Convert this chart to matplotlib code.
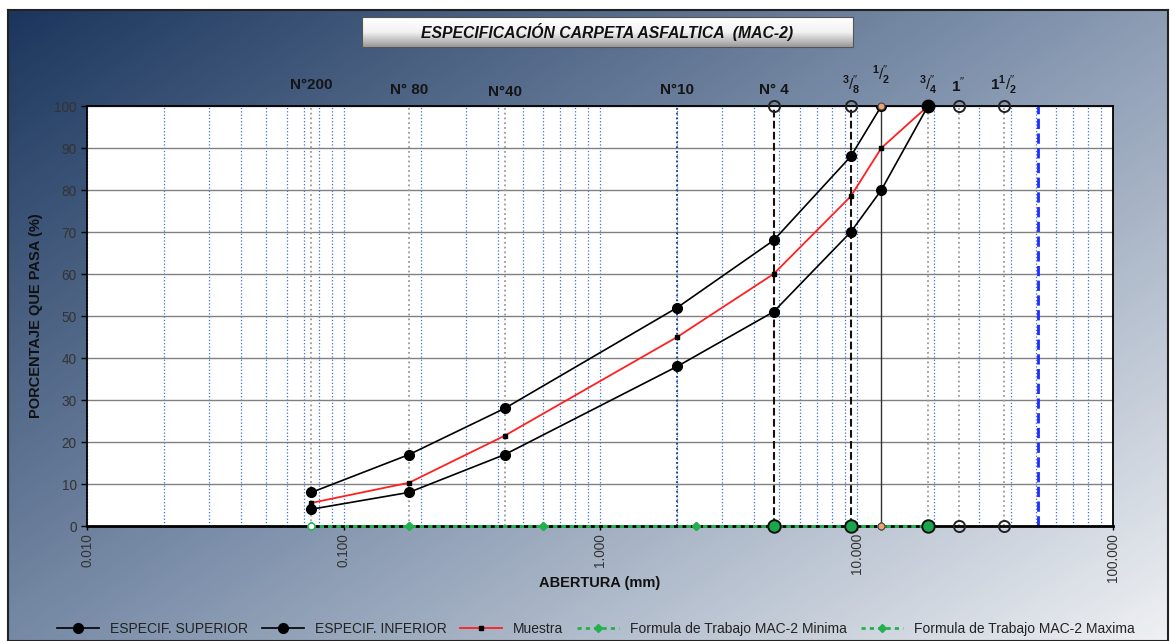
import numpy as np
import matplotlib
matplotlib.use("Agg")
import matplotlib.pyplot as plt
from matplotlib.colors import LinearSegmentedColormap
from matplotlib.ticker import FixedLocator, FuncFormatter, NullFormatter

plt.rcParams['font.family'] = ['Liberation Sans', 'DejaVu Sans']
plt.rcParams['mathtext.fontset'] = 'custom'
plt.rcParams['mathtext.rm'] = 'Liberation Sans'
plt.rcParams['mathtext.bf'] = 'Liberation Sans:bold'

# Datos de granulometria (abertura en mm, % que pasa)
tamices = [0.075, 0.18, 0.425, 2.0, 4.75, 9.5, 12.5, 19.0]
espec_superior = [8, 17, 28, 52, 68, 88, 100, 100]
espec_inferior = [4, 8, 17, 38, 51, 70, 80, 100]
muestra = [5.5, 10.3, 21.5, 45, 60, 78.5, 90, 100]

# Formula de trabajo (sin datos, en cero)
tamices_formula = [0.075, 0.18, 0.6, 2.36, 4.75, 9.5, 12.5, 19.0]
formula_min = [0, 0, 0, 0, 0, 0, 0, 0]
formula_max = [0, 0, 0, 0, 0, 0, 0, 0]

# Etiquetas de tamices en la parte superior
etiquetas_tamiz = [0.075, 0.18, 0.425, 2.0, 4.75, 9.5, 12.5, 19.0, 25.0, 37.5]
etiquetas_texto = ["N°200", "N° 80", "N°40", "N°10", "N° 4",
                   r"$^{\mathbf{3}}/_{\mathbf{8}}^{\prime\prime}$",
                   r"$^{\mathbf{1}}/_{\mathbf{2}}^{\prime\prime}$",
                   r"$^{\mathbf{3}}/_{\mathbf{4}}^{\prime\prime}$",
                   r"$\mathbf{1}^{\prime\prime}$",
                   r"$\mathbf{1}^{\mathbf{1}}/_{\mathbf{2}}^{\prime\prime}$"]
etiquetas_alto = [1.05, 1.038, 1.033, 1.038, 1.038, 1.05, 1.074, 1.05, 1.05, 1.05]

fig = plt.figure(figsize=(11.73, 6.41), dpi=100)

# Fondo degradado
bg = fig.add_axes([8/1173, 0, 1160/1173, 631/641], zorder=-10)
cmap = LinearSegmentedColormap.from_list("fondo", ["#1b365d", "#8193ad", "#eef0f3"])
gx, gy = np.meshgrid(np.linspace(0, 1, 300), np.linspace(0, 1, 200))
bg.imshow((gx * 0.55 + gy * 0.45), cmap=cmap, aspect='auto', extent=[0, 1, 0, 1], origin='upper')
bg.set_xlim(0, 1)
bg.set_ylim(0, 1)
bg.set_xticks([])
bg.set_yticks([])
for s in bg.spines.values():
    s.set_color('#222222')
    s.set_linewidth(1.5)

# Caja del titulo
tb = fig.add_axes([362/1173, (641-47)/641, 491/1173, 30/641], zorder=-5)
tcmap = LinearSegmentedColormap.from_list("caja", ["#ffffff", "#f2f2f2", "#9a9a9a"])
tb.imshow(np.linspace(0, 1, 50).reshape(-1, 1), cmap=tcmap, aspect='auto', extent=[0, 1, 0, 1])
tb.set_xticks([])
tb.set_yticks([])
for s in tb.spines.values():
    s.set_color('#555555')
tb.text(0.5, 0.5, "ESPECIFICACIÓN CARPETA ASFALTICA  (MAC-2)", ha='center', va='center',
        fontsize=11.3, fontweight='bold', fontstyle='italic', color='#111111', transform=tb.transAxes)

ax = fig.add_axes([87/1173, (641-526)/641, 1026/1173, 420/641])
ax.set_xscale('log')
ax.set_xlim(0.01, 100)
ax.set_ylim(0, 100)
ax.set_facecolor('white')

ax.xaxis.grid(True, which='both', color='#3a6fd8', linestyle=':', linewidth=0.9)
ax.set_yticks(range(0, 101, 10))
ax.yaxis.grid(True, color='#808080', linewidth=1.0)
ax.set_axisbelow(True)

# Lineas verticales de tamices
ax.vlines([0.075, 0.18, 0.425, 19.0, 25.0, 37.5], 0, 100, colors='#9a9a9a', linestyles=':', linewidth=1.3)
ax.vlines([2.0], 0, 100, colors='#1a3a8a', linestyles=':', linewidth=1.3)
ax.vlines([4.75, 9.5], 0, 100, colors='#111111', linestyles='--', linewidth=1.5)
ax.vlines([12.5], 0, 100, colors='#333333', linestyles='-', linewidth=1.0)
ax.vlines([50.8], 0, 100, colors='#1a2cff', linestyles='--', linewidth=2.0)

l_sup, = ax.plot(tamices, espec_superior, color='black', lw=1.2, marker='o', ms=7,
                 label='ESPECIF. SUPERIOR', zorder=5)
l_inf, = ax.plot(tamices, espec_inferior, color='black', lw=1.2, marker='o', ms=7,
                 label='ESPECIF. INFERIOR', zorder=5)
l_mue, = ax.plot(tamices, muestra, color='#ff2020', lw=1.3, marker='s', ms=2.5, mfc='black', mec='black',
                 label='Muestra', zorder=6)
l_min, = ax.plot(tamices_formula, formula_min, color='#22b14c', lw=2, linestyle=(0, (1.5, 1.5)),
                 marker='D', ms=4, label='Formula de Trabajo MAC-2 Minima', zorder=7, clip_on=False)
l_max, = ax.plot(tamices_formula, formula_max, color='#22b14c', lw=2, linestyle=(0, (1.5, 1.5)),
                 marker='D', ms=4, label='Formula de Trabajo MAC-2 Maxima', zorder=7, clip_on=False)

# Marcadores de referencia en los bordes
ax.plot([4.75, 9.5, 25.0, 37.5], [100, 100, 100, 100], linestyle='none', marker='o', ms=8,
        mfc='none', mec='#222222', mew=1.4, clip_on=False, zorder=8)
ax.plot([25.0, 37.5], [0, 0], linestyle='none', marker='o', ms=8,
        mfc='none', mec='#222222', mew=1.4, clip_on=False, zorder=8)
ax.plot([4.75, 9.5, 19.0], [0, 0, 0], linestyle='none', marker='o', ms=9,
        mfc='#1aa64a', mec='#111111', mew=1.4, clip_on=False, zorder=8)
ax.plot([19.0], [100], linestyle='none', marker='o', ms=9, mfc='black', mec='black', clip_on=False, zorder=8)
ax.plot([12.5, 12.5], [100, 0], linestyle='none', marker='o', ms=5, mfc='#f4a070', mec='#444444',
        mew=0.8, clip_on=False, zorder=9)
ax.plot([0.075], [0], linestyle='none', marker='o', ms=5, mfc='white', mec='#22b14c', clip_on=False, zorder=9)

for s in ax.spines.values():
    s.set_color('black')
    s.set_linewidth(1.3)
ax.spines['bottom'].set_linewidth(2)

ax.xaxis.set_major_locator(FixedLocator([0.01, 0.1, 1, 10, 100]))
ax.xaxis.set_major_formatter(FuncFormatter(lambda v, p: f"{v:.3f}"))
ax.xaxis.set_minor_formatter(NullFormatter())
ax.tick_params(axis='x', which='minor', length=0)
ax.tick_params(axis='x', which='major', labelrotation=90, labelsize=9.8, labelcolor='#333333',
               length=3, width=1, pad=2)
ax.tick_params(axis='y', labelsize=9.8, labelcolor='#333333', length=4, width=1)

for xv, txt, yv in zip(etiquetas_tamiz, etiquetas_texto, etiquetas_alto):
    ax.text(xv, yv, txt, transform=ax.get_xaxis_transform(), ha='center', va='center',
            fontsize=11, fontweight='bold', color='#151515')

ax.set_ylabel('PORCENTAJE QUE PASA (%)', fontsize=10.5, fontweight='bold', color='#111111', labelpad=8)
ax.set_xlabel('ABERTURA (mm)', fontsize=10.5, fontweight='bold', color='#111111')
ax.xaxis.set_label_coords(0.5, -0.12)

fig.legend(handles=[l_sup, l_inf, l_mue, l_min, l_max], loc='lower center', ncol=5,
           bbox_to_anchor=(0.508, -0.012), frameon=False, fontsize=10, columnspacing=1.0,
           handlelength=3.0, labelcolor='#222222')

fig.savefig('out.png', dpi=100)
